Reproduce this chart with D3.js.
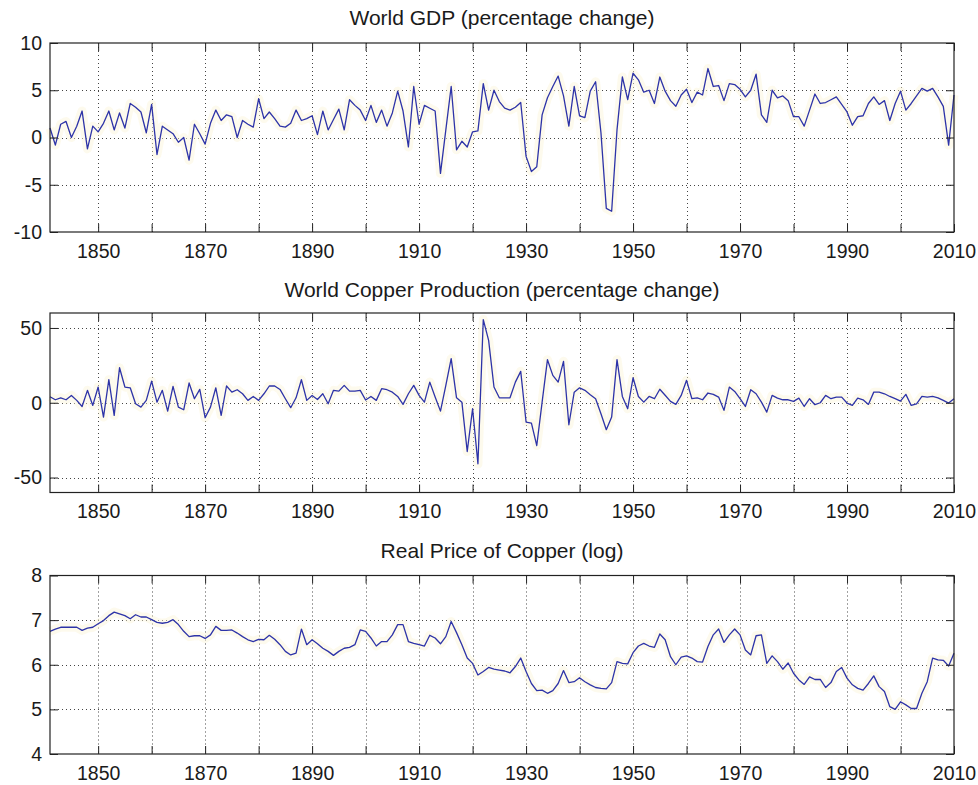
<!DOCTYPE html>
<html>
<head>
<meta charset="utf-8">
<script src="https://cdn.jsdelivr.net/npm/d3@7"></script>
<style>
  html, body { margin: 0; padding: 0; background: #fff; }
  svg { display: block; }
  text { font-family: "Liberation Sans", Arial, Helvetica, sans-serif; fill: #1a1a1a; }
</style>
</head>
<body>
<svg id="chart" width="978" height="785"></svg>
<script>
// ---------- DATA ----------
const years = d3.range(1841, 2011);

const gdpChange = [
  1.0, -0.8, 1.4, 1.7, 0.0, 1.2, 2.8, -1.2, 1.2, 0.6,
  1.5, 2.8, 0.8, 2.6, 1.0, 3.6, 3.2, 2.7, 0.5, 3.5,
  -1.8, 1.2, 0.8, 0.4, -0.5, 0.0, -2.4, 1.4, 0.4, -0.7,
  1.5, 2.9, 1.8, 2.4, 2.2, 0.0, 1.8, 1.4, 1.1, 4.1,
  2.0, 2.7, 2.0, 1.2, 1.1, 1.5, 2.9, 1.8, 2.0, 2.3,
  0.3, 2.8, 0.8, 1.9, 3.0, 0.8, 4.0, 3.4, 2.9, 1.8,
  3.4, 1.6, 2.9, 1.2, 2.6, 4.9, 2.8, -1.0, 5.4, 1.4,
  3.4, 3.1, 2.8, -3.8, 0.8, 5.4, -1.3, -0.4, -1.0, 0.6,
  0.7, 5.7, 2.9, 5.0, 3.8, 3.1, 2.9, 3.2, 3.7, -2.0,
  -3.6, -3.1, 2.4, 4.2, 5.4, 6.5, 4.4, 1.2, 5.4, 2.3,
  2.1, 4.9, 5.9, 0.5, -7.5, -7.8, 0.8, 6.4, 4.0, 6.8,
  6.1, 4.8, 5.0, 3.6, 6.4, 4.9, 3.9, 3.3, 4.5, 5.1,
  3.7, 4.8, 4.5, 7.3, 5.4, 5.5, 3.9, 5.7, 5.6, 5.1,
  4.3, 5.0, 6.7, 2.4, 1.6, 5.0, 4.2, 4.4, 3.9, 2.2,
  2.2, 1.2, 2.9, 4.6, 3.6, 3.7, 4.0, 4.3, 3.5, 2.7,
  1.3, 2.2, 2.3, 3.6, 4.3, 3.5, 3.9, 1.8, 3.6, 4.9,
  2.9, 3.6, 4.4, 5.2, 4.9, 5.2, 4.3, 3.3, -0.8, 4.5
];

const copperProdChange = [
  4.0, 2.0, 3.3, 2.0, 4.9, 1.6, -2.5, 8.3, -1.8, 10.5,
  -9.6, 15.4, -8.5, 23.4, 10.5, 10.0, -0.7, -2.9, 1.6, 14.5,
  0.4, 8.3, -5.6, 10.9, -2.9, -4.7, 13.2, 2.7, 8.9, -10.0,
  -2.9, 10.0, -8.5, 11.2, 7.1, 8.7, 6.0, 1.6, 4.2, 1.6,
  6.0, 11.2, 11.2, 8.9, 2.7, -3.3, 3.3, 15.4, 1.6, 4.9,
  2.2, 6.0, -0.7, 8.3, 7.8, 11.6, 7.8, 7.8, 8.3, 1.8,
  4.2, 1.6, 9.4, 8.7, 7.1, 4.2, -1.1, 6.0, 11.6, 4.9,
  0.4, 13.8, 3.8, -5.6, 11.6, 29.5, 3.3, 0.4, -32.6, -4.0,
  -40.8, 55.6, 41.7, 10.5, 3.3, 3.3, 3.3, 13.8, 21.0, -12.9,
  -13.6, -28.6, 0.4, 28.8, 18.3, 13.8, 27.7, -14.7, 7.1, 10.0,
  8.3, 5.4, 2.7, -7.4, -18.0, -9.6, 28.8, 4.2, -4.0, 16.7,
  4.2, 0.4, 4.2, 2.7, 9.0, 5.0, 0.9, -1.1, 4.9, 15.0,
  2.7, 3.3, 2.0, 6.5, 5.6, 3.8, -5.1, 10.5, 7.6, 2.7,
  -2.5, 8.7, 6.0, 0.4, -6.3, 4.9, 3.1, 2.0, 2.0, 0.9,
  3.1, -2.5, 2.7, -1.3, 0.0, 4.9, 2.7, 3.8, 3.8, -0.2,
  -1.8, 3.1, 2.0, -1.1, 7.1, 7.1, 6.0, 4.2, 2.7, 1.1,
  5.6, -1.8, -0.7, 4.2, 3.8, 4.2, 3.3, 1.6, -0.2, 2.7
];

const copperPriceLog = [
  6.75, 6.80, 6.84, 6.84, 6.84, 6.84, 6.77, 6.82, 6.84, 6.92,
  6.99, 7.10, 7.18, 7.14, 7.10, 7.03, 7.12, 7.07, 7.07, 7.01,
  6.95, 6.93, 6.95, 7.01, 6.90, 6.75, 6.63, 6.65, 6.65, 6.59,
  6.67, 6.86, 6.77, 6.77, 6.78, 6.71, 6.63, 6.56, 6.52, 6.57,
  6.56, 6.66, 6.57, 6.45, 6.30, 6.22, 6.26, 6.80, 6.45, 6.56,
  6.47, 6.37, 6.30, 6.21, 6.30, 6.37, 6.39, 6.45, 6.78, 6.75,
  6.60, 6.42, 6.52, 6.52, 6.67, 6.90, 6.90, 6.52, 6.48, 6.45,
  6.42, 6.66, 6.60, 6.47, 6.63, 6.97, 6.72, 6.45, 6.15, 6.03,
  5.77, 5.85, 5.94, 5.90, 5.88, 5.86, 5.82, 5.96, 6.15, 5.85,
  5.58, 5.42, 5.43, 5.36, 5.42, 5.58, 5.87, 5.60, 5.62, 5.71,
  5.62, 5.55, 5.49, 5.47, 5.46, 5.60, 6.07, 6.03, 6.02, 6.27,
  6.42, 6.48, 6.42, 6.39, 6.69, 6.56, 6.18, 6.00, 6.17, 6.20,
  6.15, 6.07, 6.06, 6.41, 6.67, 6.80, 6.50, 6.67, 6.80, 6.67,
  6.33, 6.22, 6.65, 6.67, 6.03, 6.20, 6.07, 5.90, 6.04, 5.81,
  5.66, 5.56, 5.73, 5.67, 5.67, 5.49, 5.60, 5.85, 5.94, 5.70,
  5.55, 5.47, 5.43, 5.58, 5.75, 5.51, 5.40, 5.06, 5.00, 5.17,
  5.10, 5.02, 5.02, 5.36, 5.62, 6.15, 6.11, 6.10, 5.97, 6.26
];

const xTickYears = d3.range(1850, 2011, 10);
const xLabelYears = d3.range(1850, 2011, 20);

const panelTitles = [
  "World GDP (percentage change)",
  "World Copper Production (percentage change)",
  "Real Price of Copper (log)"
];
const panelDomains = [[-10, 10], [-60, 60], [4, 8]];
const panelYTicks = [[-10, -5, 0, 5, 10], [-50, 0, 50], [4, 5, 6, 7, 8]];
const panelSeries = [gdpChange, copperProdChange, copperPriceLog];

// ---------- LAYOUT ----------
const left = 50, right = 954;
const panelBoxes = [
  { top: 43, bottom: 232, titleY: 25 },
  { top: 313, bottom: 492.5, titleY: 297 },
  { top: 575.5, bottom: 754, titleY: 558 }
];

const svg = d3.select("#chart");
const x = d3.scaleLinear().domain([1841, 2010]).range([left, right]);
const tickLen = 8;
const lineColor = "#2d33a8";
const hyphenFmt = d => String(d).replace("\u2212", "-");

panelBoxes.forEach((box, i) => {
  const y = d3.scaleLinear().domain(panelDomains[i]).range([box.bottom, box.top]);
  const g = svg.append("g");

  // title
  g.append("text")
    .attr("x", (left + right) / 2)
    .attr("y", box.titleY)
    .attr("text-anchor", "middle")
    .style("font-size", "21px")
    .text(panelTitles[i]);

  // grid lines (dotted)
  const grid = g.append("g").attr("stroke", "#444").attr("stroke-width", 1)
    .attr("stroke-dasharray", "1,3");
  xTickYears.filter(t => t > 1841 && t < 2010).forEach(t => {
    grid.append("line")
      .attr("x1", Math.round(x(t)) + 0.5).attr("x2", Math.round(x(t)) + 0.5)
      .attr("y1", box.top).attr("y2", box.bottom);
  });
  panelYTicks[i].filter(v => v > panelDomains[i][0] && v < panelDomains[i][1]).forEach(v => {
    grid.append("line")
      .attr("x1", left).attr("x2", right)
      .attr("y1", Math.round(y(v)) + 0.5).attr("y2", Math.round(y(v)) + 0.5);
  });

  // line halo (scan tint) and line
  const series = years.map((yr, k) => ({ yr, v: panelSeries[i][k] }));
  const line = d3.line().x(d => x(d.yr)).y(d => y(d.v));
  g.append("path").datum(series)
    .attr("d", line).attr("fill", "none")
    .attr("stroke", "#fbf5d8").attr("stroke-width", 9).attr("stroke-opacity", 0.45)
    .attr("stroke-linejoin", "round");
  g.append("path").datum(series)
    .attr("d", line).attr("fill", "none")
    .attr("stroke", lineColor).attr("stroke-width", 1.3)
    .attr("stroke-linejoin", "round");

  // axes (Matlab style: ticks inside on all four sides)
  const axB = d3.axisBottom(x).tickValues(xTickYears).tickSizeInner(-tickLen).tickSizeOuter(0)
    .tickPadding(12).tickFormat(d => xLabelYears.includes(d) ? String(d) : "");
  const axT = d3.axisTop(x).tickValues(xTickYears).tickSizeInner(-tickLen).tickSizeOuter(0)
    .tickFormat("");
  const axL = d3.axisLeft(y).tickValues(panelYTicks[i]).tickSizeInner(-tickLen).tickSizeOuter(0)
    .tickPadding(8).tickFormat(d => hyphenFmt(d));
  const axR = d3.axisRight(y).tickValues(panelYTicks[i]).tickSizeInner(-tickLen).tickSizeOuter(0)
    .tickFormat("");

  const gb = g.append("g").attr("transform", `translate(0,${box.bottom})`).call(axB);
  const gt = g.append("g").attr("transform", `translate(0,${box.top})`).call(axT);
  const gl = g.append("g").attr("transform", `translate(${left},0)`).call(axL);
  const gr = g.append("g").attr("transform", `translate(${right},0)`).call(axR);
  [gb, gt, gl, gr].forEach(a => {
    a.selectAll(".domain").remove();
    a.selectAll(".tick line").attr("stroke", "#222");
    a.selectAll("text").style("font-size", "19.5px")
      .style("font-family", '"Liberation Sans", Arial, sans-serif').attr("fill", "#1a1a1a");
  });

  // box
  g.append("rect")
    .attr("x", left).attr("y", box.top)
    .attr("width", right - left).attr("height", box.bottom - box.top)
    .attr("fill", "none").attr("stroke", "#222").attr("stroke-width", 1.2);
});
</script>
</body>
</html>
